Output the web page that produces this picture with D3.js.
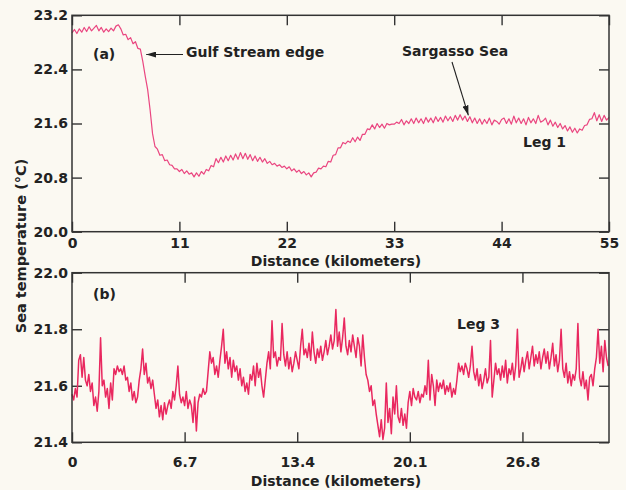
<!DOCTYPE html>
<html>
<head>
<meta charset="utf-8">
<script src="https://cdn.jsdelivr.net/npm/d3@7"></script>
<style>
  html, body { margin: 0; padding: 0; background: #fbf9f2; }
  svg { display: block; }
  text { font-family: "DejaVu Sans", sans-serif; font-weight: bold; fill: #222; }
</style>
</head>
<body>
<svg id="chart" width="626" height="490"></svg>
<script>
// Leg 1: sea temperature (deg C), one reading every 0.25 km from 0 to 55 km
const leg1Step = 0.25;
const leg1Temps = [
  22.94, 22.99, 22.93, 23.00, 22.95, 23.02, 22.96, 23.03, 22.97, 23.01,
  23.05, 22.97, 23.02, 22.95, 23.00, 22.96, 23.01, 22.97, 23.04, 23.06,
  23.00, 22.91, 22.92, 22.84, 22.87, 22.78, 22.81, 22.71, 22.70, 22.52,
  22.30, 22.10, 21.80, 21.45, 21.26, 21.22, 21.13, 21.14, 21.05, 21.06,
  20.99, 20.98, 20.93, 20.93, 20.89, 20.92, 20.86, 20.90, 20.85, 20.87,
  20.81, 20.87, 20.82, 20.89, 20.85, 20.92, 20.90, 20.98, 20.96, 21.08,
  21.02, 21.10, 21.03, 21.12, 21.05, 21.13, 21.06, 21.15, 21.07, 21.17,
  21.08, 21.16, 21.07, 21.14, 21.05, 21.12, 21.04, 21.10, 21.03, 21.08,
  21.01, 21.04, 20.99, 21.01, 20.97, 20.99, 20.95, 20.97, 20.93, 20.96,
  20.90, 20.93, 20.88, 20.91, 20.86, 20.89, 20.84, 20.87, 20.81, 20.87,
  20.88, 20.94, 20.93, 20.97, 20.96, 21.04, 21.03, 21.13, 21.14, 21.24,
  21.24, 21.32, 21.30, 21.34, 21.32, 21.39, 21.33, 21.40, 21.35, 21.44,
  21.44, 21.52, 21.51, 21.58, 21.52, 21.60, 21.54, 21.59, 21.53, 21.60,
  21.58, 21.59, 21.59, 21.62, 21.60, 21.66, 21.58, 21.64, 21.60, 21.67,
  21.60, 21.68, 21.61, 21.67, 21.60, 21.69, 21.62, 21.68, 21.61, 21.70,
  21.63, 21.69, 21.62, 21.71, 21.64, 21.70, 21.63, 21.72, 21.65, 21.73,
  21.65, 21.71, 21.63, 21.70, 21.61, 21.68, 21.60, 21.67, 21.59, 21.66,
  21.60, 21.68, 21.58, 21.65, 21.63, 21.59, 21.66, 21.68, 21.60, 21.67,
  21.59, 21.71, 21.61, 21.68, 21.60, 21.67, 21.58, 21.69, 21.61, 21.67,
  21.60, 21.72, 21.62, 21.64, 21.68, 21.58, 21.65, 21.56, 21.62, 21.54,
  21.60, 21.52, 21.57, 21.49, 21.55, 21.47, 21.53, 21.46, 21.52, 21.50,
  21.57, 21.58, 21.66, 21.67, 21.76, 21.64, 21.73, 21.63, 21.72, 21.65,
  21.69
];
const leg1DistTicks = [0, 11, 22, 33, 44, 55];
const leg1TempTicks = [20.0, 20.8, 21.6, 22.4, 23.2];

// Leg 3: sea temperature (deg C), one reading every 0.1 km from 0 to 31.9 km
const leg3Step = 0.1;
const leg3Temps = [
  21.57, 21.55, 21.59, 21.56, 21.69, 21.71, 21.63, 21.70, 21.62, 21.60,
  21.64, 21.58, 21.61, 21.53, 21.56, 21.51, 21.58, 21.77, 21.60, 21.62,
  21.56, 21.59, 21.52, 21.61, 21.55, 21.66, 21.64, 21.67, 21.65, 21.66,
  21.64, 21.67, 21.62, 21.63, 21.58, 21.61, 21.55, 21.58, 21.54, 21.56,
  21.62, 21.66, 21.73, 21.64, 21.68, 21.61, 21.63, 21.59, 21.62, 21.57,
  21.52, 21.55, 21.49, 21.53, 21.48, 21.54, 21.50, 21.53, 21.55, 21.52,
  21.58, 21.55, 21.60, 21.67, 21.57, 21.54, 21.56, 21.53, 21.58, 21.52,
  21.55, 21.53, 21.47, 21.56, 21.44, 21.54, 21.57, 21.56, 21.59, 21.57,
  21.58, 21.65, 21.72, 21.68, 21.70, 21.64, 21.67, 21.63, 21.69, 21.74,
  21.80, 21.68, 21.72, 21.66, 21.70, 21.63, 21.69, 21.65, 21.67, 21.62,
  21.66, 21.60, 21.63, 21.58, 21.61, 21.57, 21.64, 21.62, 21.67, 21.60,
  21.68, 21.63, 21.66, 21.60, 21.56, 21.62, 21.68, 21.72, 21.66, 21.83,
  21.70, 21.72, 21.67, 21.70, 21.69, 21.82, 21.71, 21.67, 21.72, 21.66,
  21.70, 21.65, 21.68, 21.72, 21.69, 21.66, 21.74, 21.80, 21.71, 21.73,
  21.70, 21.75, 21.69, 21.79, 21.72, 21.68, 21.73, 21.70, 21.74, 21.69,
  21.72, 21.76, 21.71, 21.74, 21.78, 21.73, 21.76, 21.87, 21.74, 21.79,
  21.72, 21.77, 21.84, 21.74, 21.71, 21.76, 21.72, 21.78, 21.74, 21.70,
  21.77, 21.74, 21.67, 21.78, 21.70, 21.64, 21.62, 21.58, 21.60, 21.53,
  21.55, 21.50, 21.46, 21.42, 21.48, 21.41, 21.45, 21.61, 21.47, 21.52,
  21.43, 21.56, 21.50, 21.60, 21.49, 21.47, 21.52, 21.46, 21.50, 21.45,
  21.54, 21.58, 21.53, 21.59, 21.56, 21.55, 21.58, 21.54, 21.57, 21.56,
  21.60, 21.57, 21.69, 21.55, 21.64, 21.60, 21.53, 21.62, 21.58, 21.61,
  21.59, 21.62, 21.57, 21.60, 21.58, 21.61, 21.56, 21.59, 21.57, 21.62,
  21.68, 21.65, 21.67, 21.64, 21.68, 21.66, 21.63, 21.67, 21.74, 21.65,
  21.62, 21.66, 21.60, 21.64, 21.59, 21.62, 21.66, 21.61, 21.63, 21.76,
  21.56, 21.62, 21.68, 21.64, 21.66, 21.62, 21.67, 21.63, 21.69, 21.61,
  21.66, 21.64, 21.68, 21.62, 21.67, 21.80, 21.63, 21.66, 21.70, 21.65,
  21.69, 21.72, 21.66, 21.70, 21.74, 21.67, 21.71, 21.68, 21.72, 21.66,
  21.70, 21.73, 21.68, 21.72, 21.66, 21.70, 21.75, 21.67, 21.71, 21.65,
  21.69, 21.80, 21.66, 21.63, 21.68, 21.61, 21.65, 21.60, 21.64, 21.62,
  21.66, 21.82, 21.63, 21.60, 21.65, 21.59, 21.62, 21.55, 21.63, 21.64,
  21.60, 21.66, 21.70, 21.80, 21.68, 21.74, 21.65, 21.76, 21.70, 21.67
];
const leg3DistTicks = [0, 6.7, 13.4, 20.1, 26.8];
const leg3TempTicks = [21.4, 21.6, 21.8, 22.0];

const svg = d3.select("#chart");
const ink = "#333";

// Arrowhead used by the two callouts
svg.append("defs").append("marker")
  .attr("id", "head")
  .attr("viewBox", "0 0 10 6")
  .attr("refX", 10).attr("refY", 3)
  .attr("markerWidth", 10).attr("markerHeight", 6)
  .attr("markerUnits", "userSpaceOnUse")
  .attr("orient", "auto")
  .append("path").attr("d", "M0,0 L10,3 L0,6 Z").attr("fill", "#222");

function drawPanel(p) {
  const x = d3.scaleLinear().domain(p.xDomain).range([72, 609]);
  const y = d3.scaleLinear().domain(p.yDomain).range([p.bottom, p.top]);
  const g = svg.append("g");
  const tick = 10;

  const styleAxis = sel => {
    sel.select(".domain").remove();
    sel.selectAll("line").attr("stroke", ink).attr("stroke-width", 1.4);
    sel.selectAll("text").attr("fill", "#222")
      .style("font-family", '"DejaVu Sans", sans-serif')
      .style("font-weight", "bold").style("font-size", "14px");
  };

  g.append("g").attr("transform", `translate(0,${p.bottom})`)
    .call(d3.axisBottom(x).tickValues(p.xTicks).tickSizeInner(-tick).tickSizeOuter(0)
      .tickPadding(p.xPad).tickFormat(p.xFormat))
    .call(styleAxis);
  g.append("g").attr("transform", `translate(0,${p.top})`)
    .call(d3.axisTop(x).tickValues(p.xTicks).tickSizeInner(-tick).tickSizeOuter(0).tickFormat(""))
    .call(styleAxis);
  g.append("g").attr("transform", "translate(72,0)")
    .call(d3.axisLeft(y).tickValues(p.yTicks).tickSizeInner(-tick).tickSizeOuter(0)
      .tickPadding(4).tickFormat(d3.format(".1f")))
    .call(styleAxis);
  g.append("g").attr("transform", "translate(609,0)")
    .call(d3.axisRight(y).tickValues(p.yTicks).tickSizeInner(-tick).tickSizeOuter(0).tickFormat(""))
    .call(styleAxis);

  // Temperature trace
  const line = d3.line().x((d, i) => x(i * p.step)).y(d => y(d));
  g.append("path").datum(p.temps)
    .attr("d", line)
    .attr("fill", "none")
    .attr("stroke", p.color)
    .attr("stroke-width", p.width)
    .attr("stroke-linejoin", "round");

  // Frame
  g.append("rect")
    .attr("x", 72).attr("y", p.top)
    .attr("width", 609 - 72).attr("height", p.bottom - p.top)
    .attr("fill", "none").attr("stroke", ink).attr("stroke-width", 1.5);

  // Axis title
  g.append("text")
    .attr("x", 336).attr("y", p.titleY)
    .attr("text-anchor", "middle")
    .style("font-size", "14px")
    .text("Distance (kilometers)");

  return { x, y, g };
}

const a = drawPanel({
  temps: leg1Temps, step: leg1Step,
  xDomain: [0, 55], yDomain: [20.0, 23.2],
  xTicks: leg1DistTicks, yTicks: leg1TempTicks,
  xFormat: d3.format("d"), xPad: 6,
  top: 15.3, bottom: 231.7, titleY: 265.5,
  color: "#ea4680", width: 1.2
});

const b = drawPanel({
  temps: leg3Temps, step: leg3Step,
  xDomain: [0, 31.95], yDomain: [21.4, 22.0],
  xTicks: leg3DistTicks, yTicks: leg3TempTicks,
  xFormat: d => d === 0 ? "0" : d.toFixed(1), xPad: 15,
  top: 272.7, bottom: 442.3, titleY: 486,
  color: "#e9285f", width: 1.5
});

// Shared y-axis title
svg.append("text")
  .attr("transform", "translate(26,246) rotate(-90)")
  .attr("text-anchor", "middle")
  .style("font-size", "14.5px")
  .text("Sea temperature (°C)");

// Panel letters and leg labels
const label = (g, x, y, s) => g.append("text").attr("x", x).attr("y", y)
  .style("font-size", "14px").text(s);
label(a.g, 93, 59, "(a)");
label(a.g, 523, 147, "Leg 1");
label(b.g, 93, 299, "(b)");
label(b.g, 457, 329, "Leg 3");

// Callouts on the Leg 1 trace
label(a.g, 186, 57, "Gulf Stream edge");
a.g.append("line")
  .attr("x1", 183).attr("y1", 54.5)
  .attr("x2", a.x(7.6)).attr("y2", 54.5)
  .attr("stroke", "#222").attr("stroke-width", 1.1)
  .attr("marker-end", "url(#head)");

label(a.g, 402, 56, "Sargasso Sea");
a.g.append("line")
  .attr("x1", 452).attr("y1", 62)
  .attr("x2", a.x(40.6)).attr("y2", a.y(21.72))
  .attr("stroke", "#222").attr("stroke-width", 1.1)
  .attr("marker-end", "url(#head)");
</script>
</body>
</html>
